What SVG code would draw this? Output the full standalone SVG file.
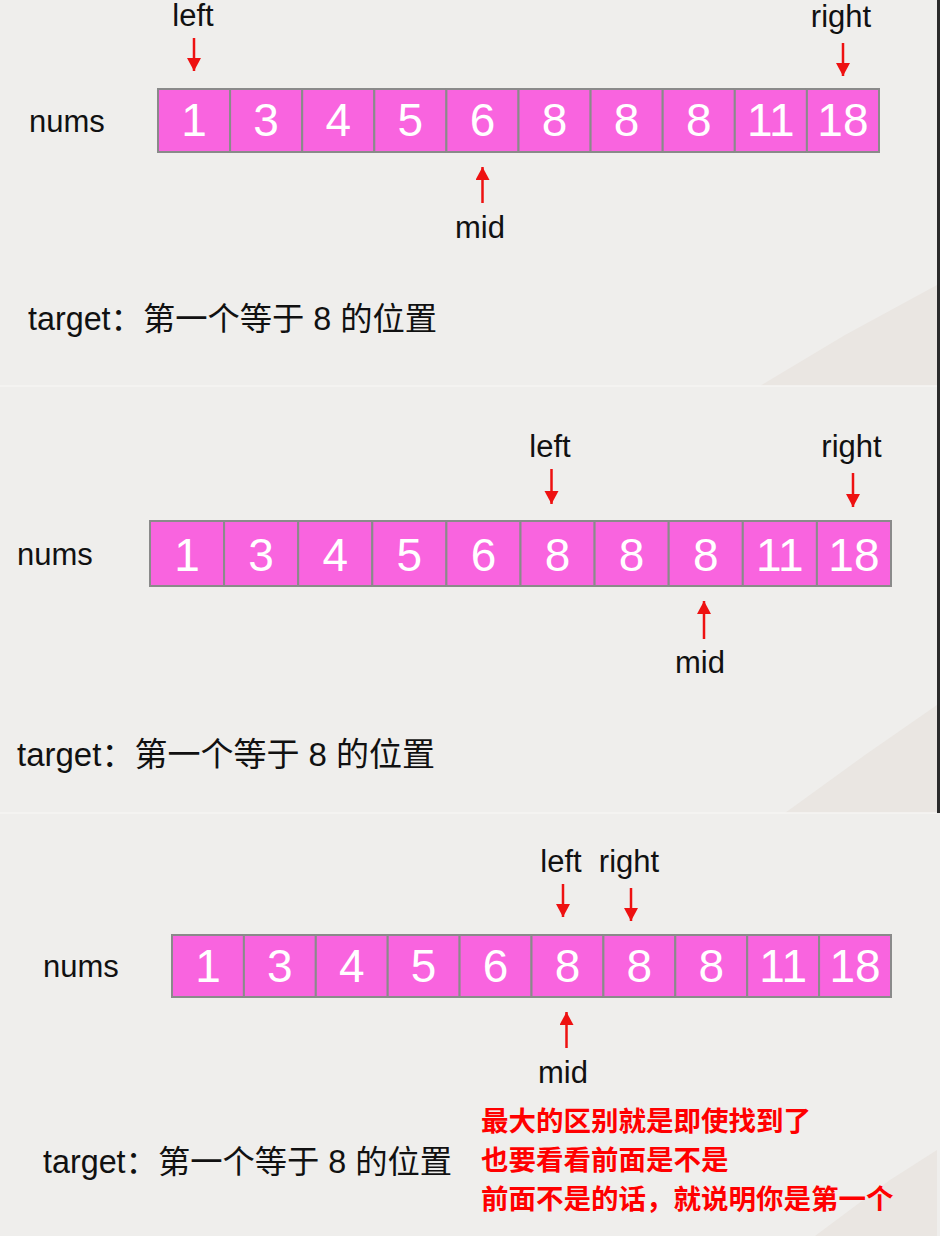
<svg xmlns="http://www.w3.org/2000/svg" width="940" height="1236" viewBox="0 0 940 1236">
<style>
.bg{fill:#efeeec}
.curl{fill:#eae6e2}
.cell{fill:#f964df;stroke:#8a8a8a;stroke-width:2}
.num{font-family:"Liberation Sans",Arial,sans-serif;font-size:46px;fill:#ffffff;text-anchor:middle}
.lbl{font-family:"Liberation Sans",Arial,sans-serif;font-size:31px;fill:#111111}
.mid{text-anchor:middle}
.tgt{font-family:"Liberation Sans","Noto Sans CJK SC",sans-serif;font-size:32.3px;fill:#111111}
.note{font-family:"Noto Sans CJK SC","Noto Sans CJK TC",sans-serif;font-size:27.5px;font-weight:bold;fill:#ff0000}
.arr{stroke:#ee1111;stroke-width:2.5;fill:none;marker-end:url(#ah)}
</style>
<defs>
<marker id="ah" markerUnits="userSpaceOnUse" markerWidth="15" markerHeight="15" refX="13" refY="7" orient="auto">
<path d="M0,0 L13,7 L0,14 z" fill="#ee1111"/>
</marker>
</defs>

<g id="background">
<rect class="bg" x="0" y="0" width="940" height="1236"/>
<polygon class="curl" points="760,386 845,335 937,285 937,386"/>
<polygon class="curl" points="785,813 865,755 937,705 937,813"/>
<polygon class="curl" points="815,1236 890,1180 937,1150 937,1236"/>
<line x1="0" y1="386" x2="937" y2="386" stroke="#f6f5f3" stroke-width="1.5"/>
<line x1="0" y1="813" x2="937" y2="813" stroke="#f6f5f3" stroke-width="1.5"/>
<rect x="937" y="0" width="3" height="813" fill="#2b2b2b"/>
</g>

<!-- Panel 1 -->
<g id="p1-nums-label"><text class="lbl" x="29" y="132">nums</text></g>
<g id="p1-array">
<g id="p1-c0"><rect class="cell" x="158" y="89" width="72.1" height="63"/><text class="num" x="194.05" y="136">1</text></g>
<g id="p1-c1"><rect class="cell" x="230.1" y="89" width="72.1" height="63"/><text class="num" x="266.15" y="136">3</text></g>
<g id="p1-c2"><rect class="cell" x="302.2" y="89" width="72.1" height="63"/><text class="num" x="338.25" y="136">4</text></g>
<g id="p1-c3"><rect class="cell" x="374.3" y="89" width="72.1" height="63"/><text class="num" x="410.35" y="136">5</text></g>
<g id="p1-c4"><rect class="cell" x="446.4" y="89" width="72.1" height="63"/><text class="num" x="482.45" y="136">6</text></g>
<g id="p1-c5"><rect class="cell" x="518.5" y="89" width="72.1" height="63"/><text class="num" x="554.55" y="136">8</text></g>
<g id="p1-c6"><rect class="cell" x="590.6" y="89" width="72.1" height="63"/><text class="num" x="626.65" y="136">8</text></g>
<g id="p1-c7"><rect class="cell" x="662.7" y="89" width="72.1" height="63"/><text class="num" x="698.75" y="136">8</text></g>
<g id="p1-c8"><rect class="cell" x="734.8" y="89" width="72.1" height="63"/><text class="num" x="770.85" y="136">11</text></g>
<g id="p1-c9"><rect class="cell" x="806.9" y="89" width="72.1" height="63"/><text class="num" x="842.95" y="136">18</text></g>
</g>
<g id="p1-left"><text class="lbl mid" x="193" y="26">left</text></g>
<g id="p1-right"><text class="lbl mid" x="841" y="27">right</text></g>
<g id="p1-midlbl"><text class="lbl mid" x="480" y="238">mid</text></g>
<g id="p1-target"><text class="tgt" x="28" y="330">target：第一个等于 8 的位置</text></g>

<!-- Panel 2 -->
<g id="p2-nums-label"><text class="lbl" x="17" y="565">nums</text></g>
<g id="p2-array">
<g id="p2-c0"><rect class="cell" x="150" y="521" width="74.1" height="65"/><text class="num" x="187.05" y="571">1</text></g>
<g id="p2-c1"><rect class="cell" x="224.1" y="521" width="74.1" height="65"/><text class="num" x="261.15" y="571">3</text></g>
<g id="p2-c2"><rect class="cell" x="298.2" y="521" width="74.1" height="65"/><text class="num" x="335.25" y="571">4</text></g>
<g id="p2-c3"><rect class="cell" x="372.3" y="521" width="74.1" height="65"/><text class="num" x="409.35" y="571">5</text></g>
<g id="p2-c4"><rect class="cell" x="446.4" y="521" width="74.1" height="65"/><text class="num" x="483.45" y="571">6</text></g>
<g id="p2-c5"><rect class="cell" x="520.5" y="521" width="74.1" height="65"/><text class="num" x="557.55" y="571">8</text></g>
<g id="p2-c6"><rect class="cell" x="594.6" y="521" width="74.1" height="65"/><text class="num" x="631.65" y="571">8</text></g>
<g id="p2-c7"><rect class="cell" x="668.7" y="521" width="74.1" height="65"/><text class="num" x="705.75" y="571">8</text></g>
<g id="p2-c8"><rect class="cell" x="742.8" y="521" width="74.1" height="65"/><text class="num" x="779.85" y="571">11</text></g>
<g id="p2-c9"><rect class="cell" x="816.9" y="521" width="74.1" height="65"/><text class="num" x="853.95" y="571">18</text></g>
</g>
<g id="p2-left"><text class="lbl mid" x="550" y="457">left</text></g>
<g id="p2-right"><text class="lbl mid" x="851.5" y="457">right</text></g>
<g id="p2-midlbl"><text class="lbl mid" x="700" y="673">mid</text></g>
<g id="p2-target"><text class="tgt" x="17" y="766" style="font-size:33px">target：第一个等于 8 的位置</text></g>

<!-- Panel 3 -->
<g id="p3-nums-label"><text class="lbl" x="43" y="977">nums</text></g>
<g id="p3-array">
<g id="p3-c0"><rect class="cell" x="172" y="935" width="71.9" height="62"/><text class="num" x="207.95" y="982">1</text></g>
<g id="p3-c1"><rect class="cell" x="243.9" y="935" width="71.9" height="62"/><text class="num" x="279.85" y="982">3</text></g>
<g id="p3-c2"><rect class="cell" x="315.8" y="935" width="71.9" height="62"/><text class="num" x="351.75" y="982">4</text></g>
<g id="p3-c3"><rect class="cell" x="387.7" y="935" width="71.9" height="62"/><text class="num" x="423.65" y="982">5</text></g>
<g id="p3-c4"><rect class="cell" x="459.6" y="935" width="71.9" height="62"/><text class="num" x="495.55" y="982">6</text></g>
<g id="p3-c5"><rect class="cell" x="531.5" y="935" width="71.9" height="62"/><text class="num" x="567.45" y="982">8</text></g>
<g id="p3-c6"><rect class="cell" x="603.4" y="935" width="71.9" height="62"/><text class="num" x="639.35" y="982">8</text></g>
<g id="p3-c7"><rect class="cell" x="675.3" y="935" width="71.9" height="62"/><text class="num" x="711.25" y="982">8</text></g>
<g id="p3-c8"><rect class="cell" x="747.2" y="935" width="71.9" height="62"/><text class="num" x="783.15" y="982">11</text></g>
<g id="p3-c9"><rect class="cell" x="819.1" y="935" width="71.9" height="62"/><text class="num" x="855.05" y="982">18</text></g>
</g>
<g id="p3-left"><text class="lbl mid" x="561" y="872">left</text></g>
<g id="p3-right"><text class="lbl mid" x="629" y="872">right</text></g>
<g id="p3-midlbl"><text class="lbl mid" x="563" y="1083">mid</text></g>
<g id="p3-target"><text class="tgt" x="43" y="1173">target：第一个等于 8 的位置</text></g>
<g id="p3-note">
<text class="note" x="481" y="1131">最大的区别就是即使找到了</text>
<text class="note" x="481" y="1170">也要看看前面是不是</text>
<text class="note" x="481" y="1209">前面不是的话，就说明你是第一个</text>
</g>

<g id="connectors">
<line class="arr" x1="194" y1="38" x2="194" y2="71"/>
<line class="arr" x1="843" y1="43" x2="843" y2="76"/>
<line class="arr" x1="482.5" y1="203" x2="482.5" y2="167"/>
<line class="arr" x1="551.5" y1="469" x2="551.5" y2="504"/>
<line class="arr" x1="853" y1="473" x2="853" y2="507"/>
<line class="arr" x1="704" y1="639" x2="704" y2="601"/>
<line class="arr" x1="563" y1="884" x2="563" y2="917"/>
<line class="arr" x1="631" y1="888" x2="631" y2="921"/>
<line class="arr" x1="566.5" y1="1048" x2="566.5" y2="1012"/>
</g>
</svg>
